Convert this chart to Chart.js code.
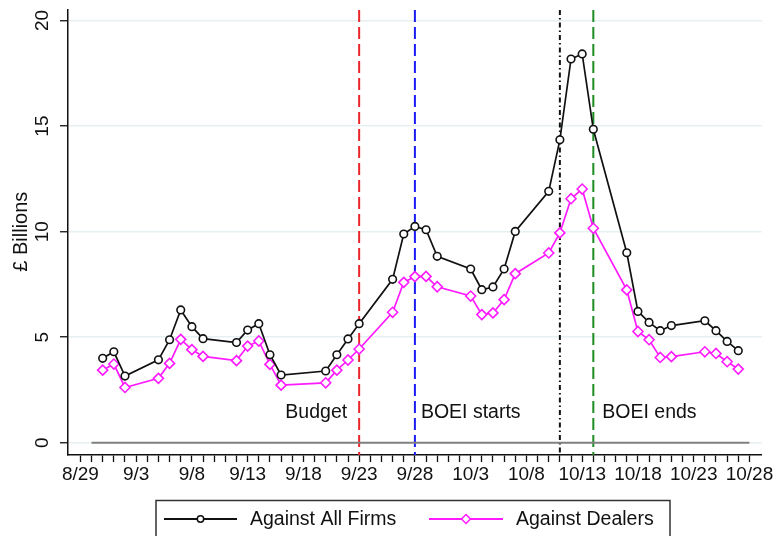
<!DOCTYPE html>
<html>
<head>
<meta charset="utf-8">
<script src="https://cdn.jsdelivr.net/npm/chart.js@4/dist/chart.umd.min.js"></script>
<style>
  body { margin: 0; background: #fff; }
  canvas { display: block; }
</style>
</head>
<body>
<canvas id="flowChart" width="776" height="536"></canvas>
<script>
// trading days (2022), values in £ billions
const dates = ['8/31', '9/1', '9/2', '9/5', '9/6', '9/7', '9/8', '9/9', '9/12', '9/13', '9/14', '9/15', '9/16',
  '9/20', '9/21', '9/22', '9/23', '9/26', '9/27', '9/28', '9/29', '9/30', '10/3', '10/4', '10/5', '10/6', '10/7',
  '10/10', '10/11', '10/12', '10/13', '10/14', '10/17', '10/18', '10/19', '10/20', '10/21', '10/24', '10/25', '10/26', '10/27'];
const allFirms = [4.0, 4.31, 3.16, 3.93, 4.88, 6.29, 5.50, 4.93, 4.75, 5.34, 5.64, 4.17, 3.21,
  3.40, 4.17, 4.92, 5.64, 7.74, 9.89, 10.25, 10.09, 8.83, 8.23, 7.25, 7.38, 8.23, 10.01,
  11.91, 14.35, 18.18, 18.42, 14.85, 9.00, 6.22, 5.70, 5.31, 5.55, 5.78, 5.31, 4.80, 4.36];
const dealers = [3.44, 3.73, 2.62, 3.05, 3.76, 4.90, 4.41, 4.09, 3.89, 4.58, 4.82, 3.71, 2.73,
  2.84, 3.44, 3.92, 4.44, 6.18, 7.60, 7.87, 7.88, 7.39, 6.95, 6.07, 6.15, 6.78, 8.01,
  8.99, 9.94, 11.56, 12.02, 10.16, 7.24, 5.27, 4.88, 4.04, 4.08, 4.31, 4.23, 3.84, 3.49];
const seriesNames = ['Against All Firms', 'Against Dealers'];

const xTickLabels = ['8/29', '9/3', '9/8', '9/13', '9/18', '9/23', '9/28', '10/3', '10/8', '10/13', '10/18', '10/23', '10/28'];
const yTicks = [0, 5, 10, 15, 20];
const zeroLineDates = ['8/30', '10/28'];

const eventDates = ['9/23', '9/28', '10/11', '10/14'];
const eventLabels = ['Budget', 'BOEI starts', '', 'BOEI ends'];

const FONT = '"Liberation Sans", Arial, Helvetica, sans-serif';

// days since 8/29
function dayOf(md) {
  const [m, d] = md.split('/').map(Number);
  return Math.round((Date.UTC(2022, m - 1, d) - Date.UTC(2022, 7, 29)) / 86400000);
}
const xDays = dates.map(dayOf);
const tickDays = xTickLabels.map(dayOf);

const eventStyles = [
  { color: '#e8262b', dash: [12, 5], side: 'left', dx: -12 },
  { color: '#1c1cf2', dash: [12, 5], side: 'right', dx: 6 },
  { color: '#111111', dash: [5, 3, 1.5, 3], side: 'right', dx: 0 },
  { color: '#1e8c22', dash: [12, 5], side: 'right', dx: 9 }
];

const eventLines = {
  id: 'eventLines',
  beforeDatasetsDraw(chart) {
    const { ctx, chartArea: { top, bottom }, scales: { x } } = chart;
    eventDates.forEach((d, i) => {
      const st = eventStyles[i];
      const px = x.getPixelForValue(dayOf(d));
      ctx.save();
      ctx.strokeStyle = st.color;
      ctx.lineWidth = 2;
      ctx.setLineDash(st.dash);
      ctx.beginPath();
      ctx.moveTo(px, top);
      ctx.lineTo(px, bottom);
      ctx.stroke();
      if (eventLabels[i]) {
        ctx.setLineDash([]);
        ctx.fillStyle = '#111';
        ctx.font = '19.5px ' + FONT;
        ctx.textAlign = st.side === 'left' ? 'right' : 'left';
        ctx.textBaseline = 'alphabetic';
        ctx.fillText(eventLabels[i], px + st.dx, 418);
      }
      ctx.restore();
    });
  }
};

const extras = {
  id: 'extras',
  afterDraw(chart) {
    const { ctx, chartArea, scales: { y } } = chart;
    ctx.save();
    ctx.fillStyle = '#111';
    // rotated y tick labels
    ctx.font = '19px ' + FONT;
    ctx.textAlign = 'center';
    ctx.textBaseline = 'alphabetic';
    yTicks.forEach(v => {
      ctx.save();
      ctx.translate(47.5, y.getPixelForValue(v));
      ctx.rotate(-Math.PI / 2);
      ctx.fillText(String(v), 0, 0);
      ctx.restore();
    });
    // y title
    ctx.save();
    ctx.translate(27.3, (chartArea.top + chartArea.bottom) / 2 - 0.8);
    ctx.rotate(-Math.PI / 2);
    ctx.font = '20px ' + FONT;
    ctx.fillText('£ Billions', 0, 0);
    ctx.restore();

    // legend
    ctx.strokeStyle = '#333';
    ctx.lineWidth = 1.5;
    ctx.strokeRect(156, 500.5, 514, 45);
    const items = [
      { x0: 164, x1: 237, tx: 250 },
      { x0: 429, x1: 503, tx: 516 }
    ];
    const ly = 519;
    items.forEach((it, i) => {
      const ds = chart.data.datasets[i];
      ctx.strokeStyle = ds.borderColor;
      ctx.lineWidth = 1.8;
      ctx.beginPath();
      ctx.moveTo(it.x0, ly);
      ctx.lineTo(it.x1, ly);
      ctx.stroke();
      const mx = (it.x0 + it.x1) / 2;
      ctx.fillStyle = '#fff';
      ctx.lineWidth = 1.5;
      ctx.beginPath();
      if (ds.pointStyle === 'rectRot') {
        const r = 4.5;
        ctx.moveTo(mx, ly - r); ctx.lineTo(mx + r, ly); ctx.lineTo(mx, ly + r); ctx.lineTo(mx - r, ly); ctx.closePath();
      } else {
        ctx.arc(mx, ly, 3.2, 0, Math.PI * 2);
      }
      ctx.fill();
      ctx.stroke();
      ctx.fillStyle = '#111';
      ctx.font = '19.5px ' + FONT;
      ctx.textAlign = 'left';
      ctx.textBaseline = 'middle';
      ctx.fillText(ds.label, it.tx, ly + 1);
    });
    ctx.restore();
  }
};

const ctx = document.getElementById('flowChart').getContext('2d');

new Chart(ctx, {
  type: 'line',
  data: {
    datasets: [
      {
        label: seriesNames[0],
        data: xDays.map((d, i) => ({ x: d, y: allFirms[i] })),
        borderColor: '#111111',
        backgroundColor: '#ffffff',
        borderWidth: 1.7,
        pointStyle: 'circle',
        pointRadius: 3.8,
        pointBorderWidth: 1.6,
        pointBackgroundColor: '#ffffff',
        order: 1
      },
      {
        label: seriesNames[1],
        data: xDays.map((d, i) => ({ x: d, y: dealers[i] })),
        borderColor: '#ff1aff',
        backgroundColor: '#ffffff',
        borderWidth: 1.7,
        pointStyle: 'rectRot',
        pointRadius: 5,
        pointBorderWidth: 1.6,
        pointBackgroundColor: '#ffffff',
        order: 2
      },
      {
        label: 'zero',
        data: zeroLineDates.map(d => ({ x: dayOf(d), y: 0 })),
        borderColor: '#808080',
        borderWidth: 2,
        pointRadius: 0,
        order: 3
      }
    ]
  },
  options: {
    responsive: false,
    animation: false,
    devicePixelRatio: 1,
    layout: { padding: { top: 10, right: 14.3, left: 0, bottom: 0 } },
    plugins: {
      legend: { display: false },
      tooltip: { enabled: false }
    },
    scales: {
      x: {
        type: 'linear',
        min: -1.11,
        max: 61.1,
        afterBuildTicks: s => {
          s.ticks = s.ticks.filter(t => t.value >= 0 && t.value <= 60);
        },
        afterFit: s => { s.height = 81; s.paddingLeft = 0; s.paddingRight = 0; },
        ticks: {
          stepSize: 1,
          autoSkip: false,
          maxRotation: 0,
          minRotation: 0,
          includeBounds: false,
          padding: 1,
          color: '#111',
          font: { family: FONT, size: 19 },
          callback: v => {
            const k = tickDays.indexOf(v);
            return k >= 0 ? xTickLabels[k] : '';
          }
        },
        grid: { drawOnChartArea: false, tickLength: 7, tickColor: '#111', tickWidth: 1.3 },
        border: { color: '#111', width: 1.5 }
      },
      y: {
        min: -0.58,
        max: 20.5,
        afterBuildTicks: s => {
          s.ticks = yTicks.map(v => ({ value: v }));
        },
        afterFit: s => { s.width = 68; },
        ticks: { display: false, stepSize: 5, includeBounds: false },
        grid: { color: '#e6eff1', lineWidth: 1.5, tickLength: 8, tickColor: '#111', tickWidth: 1.3 },
        border: { color: '#111', width: 1.5 }
      }
    }
  },
  plugins: [eventLines, extras]
});
</script>
</body>
</html>
